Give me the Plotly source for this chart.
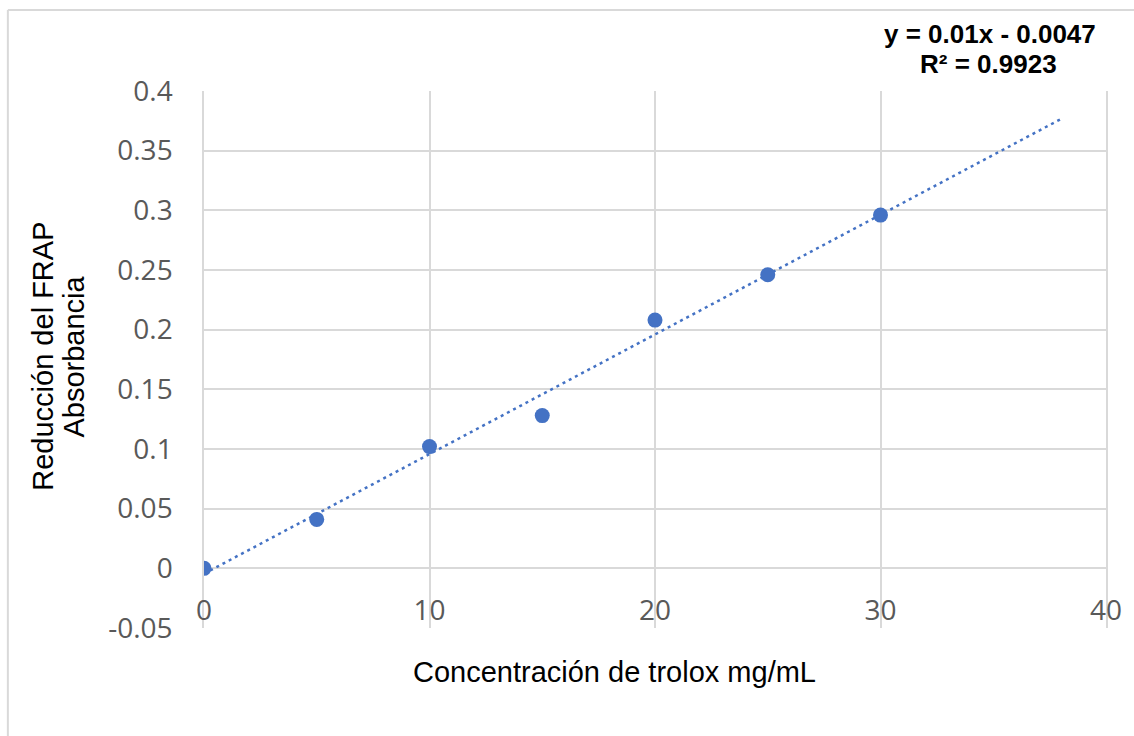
import numpy as np
import plotly.graph_objects as go

# Data
conc = [0, 5, 10, 15, 20, 25, 30]
absorb = [0.0, 0.041, 0.102, 0.128, 0.208, 0.246, 0.296]
x_ticks = [0, 10, 20, 30, 40]
y_ticks = [-0.05, 0, 0.05, 0.1, 0.15, 0.2, 0.25, 0.3, 0.35, 0.4]
y_tick_text = ["-0.05", "0", "0.05", "0.1", "0.15", "0.2", "0.25", "0.3", "0.35", "0.4"]
trend_x_range = [0, 38]
equation_line1 = "y = 0.01x - 0.0047"
equation_line2 = "R² = 0.9923"
y_title_line1 = "Reducción del FRAP"
y_title_line2 = "Absorbancia"
x_title = "Concentración de trolox mg/mL"

slope, intercept = np.polyfit(conc, absorb, 1)
tx = np.array(trend_x_range, dtype=float)
ty = slope * tx + intercept

BLUE = "#4472C4"
GRID = "#d9d9d9"
TICKC = "#595959"
TITLE_FONT = "Liberation Sans, Arial"

W, H = 1134, 736
L, R, T, B = 204, 24, 91, 108
pw, ph = W - L - R, H - T - B

def px_x(p):
    return (p - L) / pw

def px_y(p):
    return (H - B - p) / ph

fig = go.Figure()
fig.add_trace(go.Scatter(x=tx, y=ty, mode="lines",
                         line=dict(color=BLUE, width=2.5, dash="3px,4px"),
                         hoverinfo="skip", showlegend=False))
fig.add_trace(go.Scatter(x=conc, y=absorb, mode="markers",
                         marker=dict(color=BLUE, size=15),
                         showlegend=False))

ymin, ymax = -0.05, 0.4
fig.update_layout(
    width=W, height=H,
    margin=dict(l=L, r=R, t=T, b=B),
    paper_bgcolor="white", plot_bgcolor="white",
    xaxis=dict(range=[0, 40], tickvals=x_ticks, showgrid=True, gridcolor=GRID, gridwidth=1.5,
               zeroline=True, zerolinecolor=GRID, zerolinewidth=1.5,
               showline=False, anchor="free", position=(0 - ymin) / (ymax - ymin),
               ticks="outside", ticklen=17, tickcolor="rgba(0,0,0,0)",
               tickfont=dict(family="Open Sans", size=28, color=TICKC)),
    yaxis=dict(range=[ymin, ymax], tickvals=y_ticks, ticktext=y_tick_text,
               showgrid=True, gridcolor=GRID, gridwidth=1.5,
               zeroline=True, zerolinecolor=GRID, zerolinewidth=1.5,
               showline=True, linecolor=GRID, linewidth=1.5, mirror=True,
               ticks="outside", ticklen=24, tickcolor="rgba(0,0,0,0)",
               tickfont=dict(family="Open Sans", size=28, color=TICKC)),
    annotations=[
        dict(text=y_title_line1, textangle=-90,
             x=px_x(42), y=px_y(356), xref="paper", yref="paper",
             xanchor="center", yanchor="middle", showarrow=False,
             font=dict(family=TITLE_FONT, size=29, color="black")),
        dict(text=y_title_line2, textangle=-90,
             x=px_x(73), y=px_y(357), xref="paper", yref="paper",
             xanchor="center", yanchor="middle", showarrow=False,
             font=dict(family=TITLE_FONT, size=29, color="black")),
        dict(text=x_title,
             x=px_x(616), y=px_y(672), xref="paper", yref="paper",
             xanchor="center", yanchor="middle", showarrow=False,
             font=dict(family=TITLE_FONT, size=29, color="black")),
        dict(text="<b>" + equation_line1 + "</b>",
             x=px_x(993), y=px_y(34), xref="paper", yref="paper",
             xanchor="center", yanchor="middle", showarrow=False,
             font=dict(family=TITLE_FONT, size=26, color="black")),
        dict(text="<b>" + equation_line2 + "</b>",
             x=px_x(992), y=px_y(64), xref="paper", yref="paper",
             xanchor="center", yanchor="middle", showarrow=False,
             font=dict(family=TITLE_FONT, size=26, color="black")),
    ],
    shapes=[
        dict(type="line", xref="paper", yref="paper",
             x0=px_x(7), x1=px_x(7), y0=px_y(10), y1=px_y(740),
             line=dict(color=GRID, width=2)),
        dict(type="line", xref="paper", yref="paper",
             x0=px_x(7), x1=px_x(1140), y0=px_y(10), y1=px_y(10),
             line=dict(color=GRID, width=2)),
    ],
)

fig.write_html("out.html")
